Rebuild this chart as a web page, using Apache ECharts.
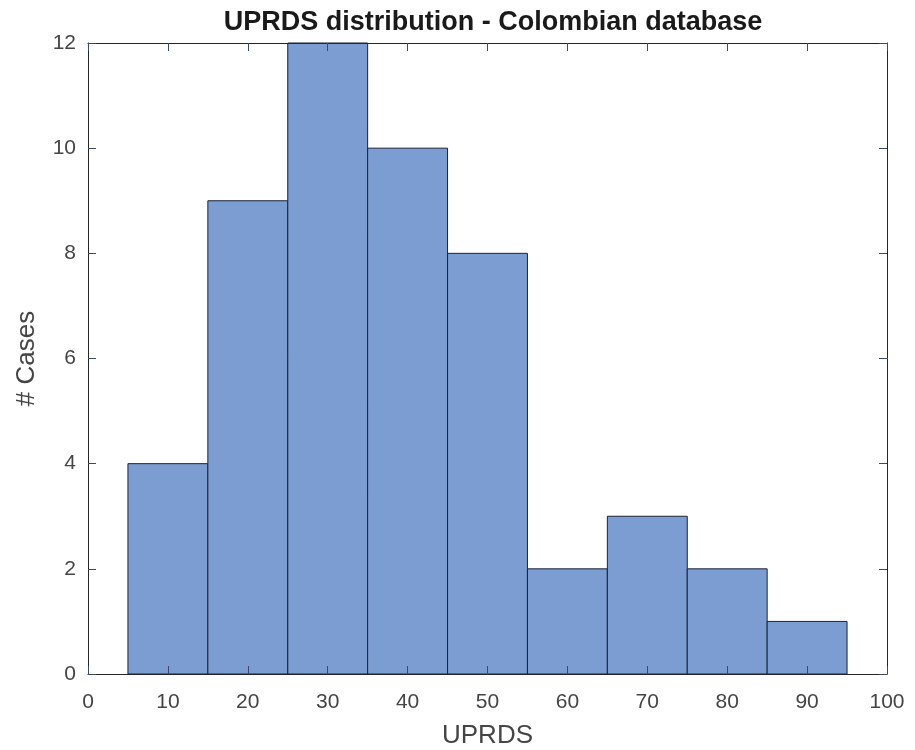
<!DOCTYPE html>
<html><head><meta charset="utf-8">
<script src="https://cdn.jsdelivr.net/npm/echarts@6/dist/echarts.min.js"></script>
<style>html,body{margin:0;padding:0;background:#fff}#c{width:915px;height:750px}</style>
</head><body><div id="c"></div>
<script>
const binStarts = [5, 15, 25, 35, 45, 55, 65, 75, 85];
const binWidth = 10;
const counts = [4, 9, 12, 10, 8, 2, 3, 2, 1];
const xTicks = [0,10,20,30,40,50,60,70,80,90,100];
const yTicks = [0,2,4,6,8,10,12];

const data = binStarts.map((s, i) => [s, s + binWidth, counts[i]]);
const axisColor = '#262626';
const labelColor = '#454545';
const font = 'Arial, "Liberation Sans", Helvetica, sans-serif';

function boxAxis(extra) {
  return Object.assign({
    type: 'value', z: 5,
    axisLine: {show: true, onZero: false, lineStyle: {color: axisColor, width: 1}},
    axisTick: {show: true, inside: true, length: 8, lineStyle: {color: '#3a4a66'}},
    splitLine: {show: false}
  }, extra);
}

const chart = echarts.init(document.getElementById('c'), null, {renderer: 'canvas'});
chart.setOption({
  animation: false,
  title: {
    text: 'UPRDS distribution - Colombian database',
    left: 488, top: 4, textAlign: 'center',
    textStyle: {fontFamily: font, fontWeight: 'bold', fontSize: 27, color: '#1a1a1a'}
  },
  grid: {left: 88, right: 28, top: 43, bottom: 76, containLabel: false, outerBoundsMode: 'none'},
  xAxis: [
    boxAxis({min: xTicks[0], max: xTicks[xTicks.length-1], interval: 10, position: 'bottom',
      name: 'UPRDS', nameLocation: 'middle', nameGap: 49,
      nameTextStyle: {fontFamily: font, fontSize: 26, color: labelColor},
      axisLabel: {fontFamily: font, fontSize: 21, color: labelColor, margin: 18}}),
    boxAxis({min: xTicks[0], max: xTicks[xTicks.length-1], interval: 10, position: 'top',
      axisLabel: {show: false}})
  ],
  yAxis: [
    boxAxis({min: yTicks[0], max: yTicks[yTicks.length-1], interval: 2, position: 'left',
      name: '# Cases', nameLocation: 'middle', nameGap: 48,
      nameTextStyle: {fontFamily: font, fontSize: 26, color: labelColor},
      axisLabel: {fontFamily: font, fontSize: 21, color: labelColor, margin: 12}}),
    boxAxis({min: yTicks[0], max: yTicks[yTicks.length-1], interval: 2, position: 'right',
      axisLabel: {show: false}})
  ],
  series: [{
    type: 'custom',
    xAxisIndex: 0, yAxisIndex: 0,
    data: data,
    encode: {x: [0, 1], y: 2},
    renderItem: function (params, api) {
      const p0 = api.coord([api.value(0), 0]);
      const p1 = api.coord([api.value(1), api.value(2)]);
      return {
        type: 'rect',
        shape: {x: p0[0], y: p1[1], width: p1[0] - p0[0], height: p0[1] - p1[1]},
        style: {fill: '#7b9dd2', stroke: '#1c2237', lineWidth: 1}
      };
    }
  }]
});
</script></body></html>
